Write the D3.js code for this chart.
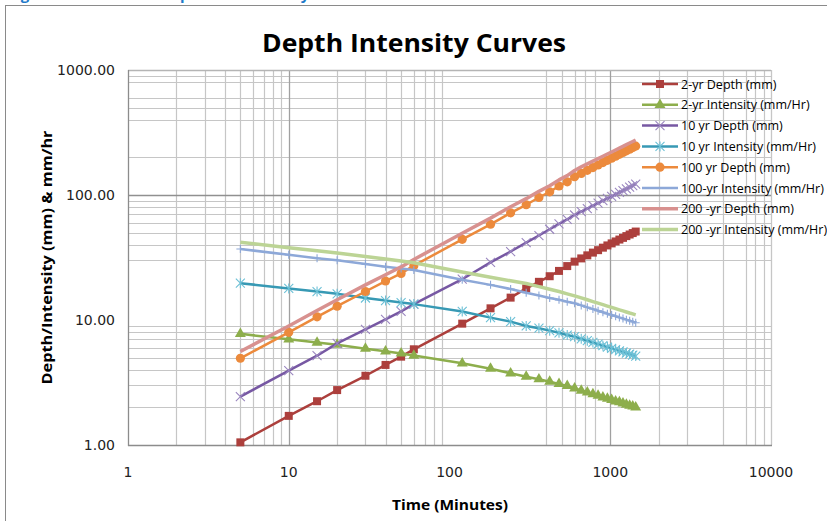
<!DOCTYPE html>
<html>
<head>
<meta charset="utf-8">
<script src="https://cdn.jsdelivr.net/npm/d3@7"></script>
<style>
    body { margin: 0; background: #fff; }
    svg { display: block; font-family: "Open Sans", sans-serif; }
</style>
</head>
<body>
<svg id="chart" width="827" height="521"></svg>
<script>
// durations in minutes
const times = [5, 10, 15, 20, 30, 40, 50, 60, 120, 180, 240, 300, 360, 420, 480, 540, 600,
    660, 720, 780, 840, 900, 960, 1020, 1080, 1140, 1200, 1260, 1320, 1380, 1440];

const depth2yr = [1.05, 1.71, 2.24, 2.75, 3.58, 4.37, 5.09, 5.83, 9.35, 12.4, 15.1, 17.9, 20.2, 22.4, 24.7, 27.0, 29.3,
    31.1, 32.9, 34.6, 36.2, 37.9, 39.5, 41.0, 42.5, 44.0, 45.4, 46.9, 48.3, 49.6, 51.0];
const intensity2yr = [7.75, 7.0, 6.6, 6.35, 5.9, 5.62, 5.4, 5.2, 4.5, 4.08, 3.75, 3.52, 3.36, 3.21, 3.08, 2.97, 2.84,
    2.73, 2.64, 2.56, 2.48, 2.41, 2.35, 2.30, 2.24, 2.20, 2.15, 2.11, 2.07, 2.04, 2.0];
const depth10yr = [2.44, 3.93, 5.18, 6.5, 8.42, 10.1, 11.7, 13.4, 21.2, 28.9, 35.3, 41.6, 47.4, 53.2, 58.7, 63.8, 69.2,
    73.6, 77.9, 82.1, 86.0, 90.0, 93.8, 97.6, 101.2, 104.8, 108.4, 111.9, 115.4, 118.7, 122];
const intensity10yr = [19.7, 17.9, 16.9, 16.2, 15.0, 14.3, 13.8, 13.4, 11.7, 10.45, 9.7, 8.96, 8.6, 8.22, 7.9, 7.58, 7.35,
    7.07, 6.83, 6.61, 6.41, 6.23, 6.07, 5.93, 5.79, 5.66, 5.55, 5.44, 5.34, 5.24, 5.15];
const depth100yr = [4.94, 7.97, 10.6, 12.9, 16.9, 20.5, 23.6, 27.2, 44.2, 58.3, 72.0, 83.5, 95.5, 106, 118, 127.5, 140,
    148.8, 157.4, 165.8, 173.9, 181.7, 189.4, 197.0, 204.3, 211.5, 218.8, 225.7, 232.7, 239.3, 246];
const intensity100yr = [37, 33.2, 31.2, 30.0, 28.0, 26.7, 25.8, 25.1, 21.0, 19.1, 17.7, 16.5, 15.7, 15.0, 14.5, 14.0, 13.6,
    13.08, 12.63, 12.23, 11.86, 11.53, 11.23, 10.96, 10.72, 10.47, 10.27, 10.06, 9.87, 9.70, 9.5];
const depth200yr = [5.6, 8.95, 11.9, 14.5, 19.1, 23.0, 26.6, 30.5, 49.5, 65.3, 80.6, 93.5, 107, 118.7, 132, 142.8, 157,
    167.8, 177.3, 186.6, 195.4, 204.3, 212.8, 221.0, 229.3, 237.2, 245.1, 252.8, 260.4, 267.7, 275];
const intensity200yr = [41.8, 37.9, 35.8, 34.3, 32.2, 30.7, 29.6, 28.7, 24.2, 22.0, 20.6, 19.6, 18.5, 17.6, 16.9, 16.2, 15.6,
    15.01, 14.51, 14.04, 13.63, 13.26, 12.92, 12.62, 12.32, 12.06, 11.82, 11.59, 11.37, 11.19, 11.0];

const seriesNames = ['2-yr Depth (mm)', '2-yr Intensity (mm/Hr)', '10 yr Depth (mm)', '10 yr Intensity (mm/Hr)',
    '100 yr Depth (mm)', '100-yr Intensity (mm/Hr)', '200 -yr Depth (mm)', '200 -yr Intensity (mm/Hr)'];
const seriesValues = [depth2yr, intensity2yr, depth10yr, intensity10yr, depth100yr, intensity100yr, depth200yr, intensity200yr];

const xTicks = [1, 10, 100, 1000, 10000];
const yTicks = [1, 10, 100, 1000];
// gridlines that actually show in the picture (a few got lost in the original image)
const xMajorGrid = [10, 1000];
const xMinorGrid = [2, 3, 4, 5, 6, 7, 8, 9, 20, 30, 40, 50, 60, 70, 80, 90, 400, 500, 600, 700, 800, 2000, 3000, 5000, 7000, 8000, 9000];
const yMajorGrid = [100, 1000];
const yMinorGrid = [2, 3, 4, 5, 6, 7, 8, 9, 30, 40, 50, 60, 70, 80, 90, 200, 400, 500, 600, 800, 900];

class DepthChart {
    constructor() {
        this.CHART_WIDTH = 827;
        this.CHART_HEIGHT = 521;
        this.PLOT = { left: 128, right: 771, top: 70, bottom: 445 };
        this.styles = [
            { color: '#AC3F3C', width: 2.5, marker: 'square' },
            { color: '#8DAE4C', width: 2.5, marker: 'triangle' },
            { color: '#7758A3', width: 2.5, marker: 'times', mcolor: '#9A86BF' },
            { color: '#3799B4', width: 2.5, marker: 'star', mcolor: '#6CC0D6' },
            { color: '#EC8A3C', width: 2.5, marker: 'circle' },
            { color: '#8DA8D8', width: 2.5, marker: 'plus' },
            { color: '#D8918F', width: 3.5, marker: null },
            { color: '#BCD495', width: 3.5, marker: null }
        ];
        this.svg = d3.select('#chart');
        this.xScale = d3.scaleLog().domain([1, 10000]).range([this.PLOT.left, this.PLOT.right]);
        this.yScale = d3.scaleLog().domain([1, 1000]).range([this.PLOT.bottom, this.PLOT.top]);
        this.drawFrame();
        this.drawGrid();
        this.drawAxes();
        this.drawSeries();
        this.drawLegend();
    }

    markerPath(type) {
        switch (type) {
            case 'square': return d3.symbol(d3.symbolSquare, 64)();
            case 'triangle': return d3.symbol(d3.symbolTriangle, 52)();
            case 'circle': return d3.symbol(d3.symbolCircle, 66)();
            case 'times': return 'M-4.5,-4.5L4.5,4.5M-4.5,4.5L4.5,-4.5';
            case 'star': return 'M-4.5,-4.5L4.5,4.5M-4.5,4.5L4.5,-4.5M0,-5L0,5';
            case 'plus': return 'M0,-4L0,4M-4,0L4,0';
        }
        return null;
    }

    drawMarkers(sel, st) {
        let filled = ['square', 'triangle', 'circle'].includes(st.marker);
        sel.attr('d', this.markerPath(st.marker))
            .attr('fill', filled ? st.color : 'none')
            .attr('stroke', filled ? 'none' : (st.mcolor || st.color))
            .attr('stroke-width', 1.1);
    }

    drawFrame() {
        // caption of the page above the chart, mostly cut off in the picture
        this.svg.append('text')
            .attr('x', 8).attr('y', -0.5)
            .attr('fill', '#1F7AC9').attr('font-weight', 'bold').attr('font-size', '15px')
            .text('Figure 3-4: Rainfall');
        this.svg.append('text')
            .attr('x', 160).attr('y', -0.5)
            .attr('fill', '#1F7AC9').attr('font-weight', 'bold').attr('font-size', '15px')
            .text('Depth and Intensity');
        this.svg.append('rect')
            .attr('x', 5.5).attr('y', 5.5)
            .attr('width', 900).attr('height', 600)
            .attr('fill', 'none').attr('stroke', '#8a8a8a');

        this.svg.append('text')
            .attr('x', 414).attr('y', 52)
            .attr('text-anchor', 'middle')
            .attr('font-weight', 'bold').attr('font-size', '25px')
            .attr('textLength', 304).attr('lengthAdjust', 'spacingAndGlyphs')
            .text('Depth Intensity Curves');
    }

    drawGrid() {
        let g = this.svg.append('g').attr('id', 'grid');
        let P = this.PLOT;
        g.selectAll('line.xminor').data(xMinorGrid).join('line')
            .attr('x1', d => Math.round(this.xScale(d)) + 0.5).attr('x2', d => Math.round(this.xScale(d)) + 0.5)
            .attr('y1', P.top).attr('y2', P.bottom)
            .attr('stroke', '#c6c6c6').attr('stroke-width', 1.2);
        g.selectAll('line.yminor').data(yMinorGrid).join('line')
            .attr('y1', d => Math.round(this.yScale(d)) + 0.5).attr('y2', d => Math.round(this.yScale(d)) + 0.5)
            .attr('x1', P.left).attr('x2', P.right)
            .attr('stroke', '#c6c6c6').attr('stroke-width', 1.2);
        g.selectAll('line.xmajor').data(xMajorGrid.concat([10000])).join('line')
            .attr('x1', d => Math.round(this.xScale(d)) + 0.5).attr('x2', d => Math.round(this.xScale(d)) + 0.5)
            .attr('y1', P.top).attr('y2', P.bottom)
            .attr('stroke', d => d === 10000 ? '#c6c6c6' : '#a0a0a0').attr('stroke-width', 1.3);
        g.selectAll('line.ymajor').data(yMajorGrid).join('line')
            .attr('y1', d => Math.round(this.yScale(d)) + 0.5).attr('y2', d => Math.round(this.yScale(d)) + 0.5)
            .attr('x1', P.left).attr('x2', P.right)
            .attr('stroke', d => d === 1000 ? '#b5b5b5' : '#909090').attr('stroke-width', 1.3);
    }

    drawAxes() {
        let P = this.PLOT;
        let fmt = d3.format('.2f');
        this.svg.append('line')
            .attr('x1', P.left + 0.5).attr('x2', P.left + 0.5).attr('y1', P.top).attr('y2', P.bottom + 1)
            .attr('stroke', '#8c8c8c').attr('stroke-width', 1.3);
        this.svg.append('line')
            .attr('x1', P.left).attr('x2', P.right + 1).attr('y1', P.bottom + 0.5).attr('y2', P.bottom + 0.5)
            .attr('stroke', '#8c8c8c').attr('stroke-width', 1.3);

        this.svg.append('g').selectAll('text').data(yTicks).join('text')
            .attr('x', 115)
            .attr('y', d => this.yScale(d) + 5)
            .attr('text-anchor', 'end')
            .attr('font-family', '"DejaVu Sans", sans-serif')
            .attr('font-size', '14px')
            .attr('fill', '#222')
            .text(d => fmt(d));
        this.svg.append('g').selectAll('text').data(xTicks).join('text')
            .attr('x', d => this.xScale(d))
            .attr('y', 477)
            .attr('text-anchor', 'middle')
            .attr('font-family', '"DejaVu Sans", sans-serif')
            .attr('font-size', '14px')
            .attr('fill', '#222')
            .text(d => d);

        this.svg.append('text')
            .attr('x', 450).attr('y', 510)
            .attr('text-anchor', 'middle')
            .attr('font-weight', 'bold').attr('font-size', '15px')
            .attr('textLength', 116).attr('lengthAdjust', 'spacingAndGlyphs')
            .text('Time (Minutes)');
        this.svg.append('text')
            .attr('transform', `translate(52, ${(P.top + P.bottom) / 2}) rotate(-90)`)
            .attr('text-anchor', 'middle')
            .attr('font-weight', 'bold').attr('font-size', '15px')
            .attr('textLength', 254).attr('lengthAdjust', 'spacingAndGlyphs')
            .text('Depth/Intensity (mm) & mm/hr');
    }

    drawSeries() {
        let line = d3.line()
            .x(d => this.xScale(d.t))
            .y(d => this.yScale(d.v));
        let g = this.svg.append('g').attr('id', 'series');
        seriesValues.forEach((vals, i) => {
            let st = this.styles[i];
            let pts = vals.map((v, j) => ({ t: times[j], v: v }));
            let sg = g.append('g');
            sg.append('path')
                .attr('d', line(pts))
                .attr('fill', 'none')
                .attr('stroke', st.color)
                .attr('stroke-width', st.width)
                .attr('stroke-linejoin', 'round');
            if (st.marker) {
                sg.selectAll('path.mk').data(pts).join('path')
                    .attr('class', 'mk')
                    .attr('transform', d => `translate(${this.xScale(d.t)},${this.yScale(d.v)})`)
                    .call(sel => this.drawMarkers(sel, st));
            }
        });
    }

    drawLegend() {
        let g = this.svg.append('g').attr('id', 'legend');
        let rows = g.selectAll('g').data(seriesNames).join('g')
            .attr('transform', (d, i) => `translate(642, ${84 + i * 20.8})`);
        rows.append('line')
            .attr('x1', 0).attr('x2', 36)
            .attr('stroke', (d, i) => this.styles[i].color)
            .attr('stroke-width', (d, i) => this.styles[i].width);
        rows.each((d, i, nodes) => {
            let st = this.styles[i];
            if (st.marker && st.marker !== 'plus')
                d3.select(nodes[i]).append('path')
                    .attr('transform', 'translate(18,0)')
                    .call(sel => this.drawMarkers(sel, st));
        });
        rows.append('text')
            .attr('x', 39).attr('y', 4.5)
            .attr('font-size', '12.5px')
            .attr('fill', '#000')
            .text(d => d);
    }
}

new DepthChart();
</script>
</body>
</html>
